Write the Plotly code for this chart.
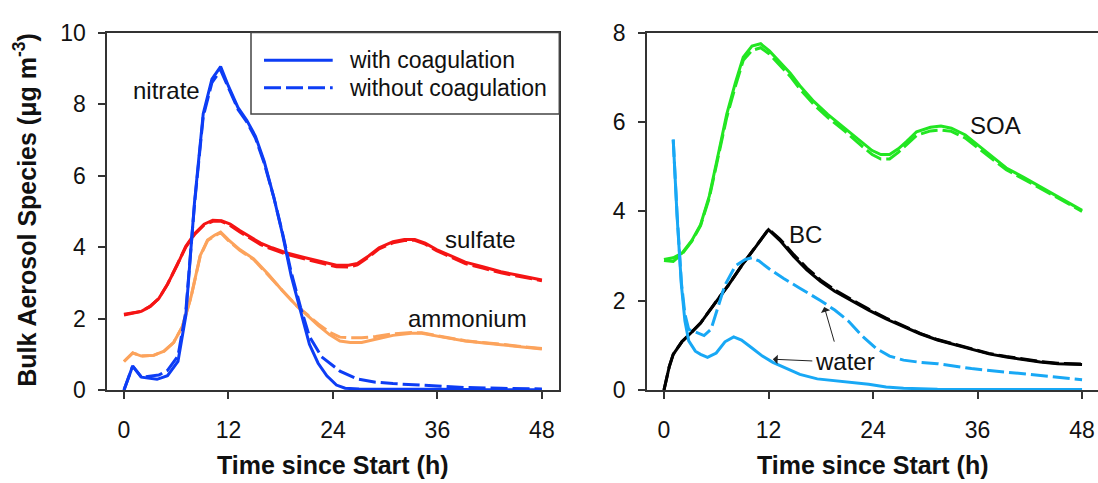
import plotly.graph_objects as go

W, H = 1098, 483

# ---------------- data (left panel) ----------------
nitrate_t = [0, 1, 2, 3.8, 5, 6.2, 7.1, 8.1, 9.1, 10.1, 11.1, 12, 13.1, 14.1, 15.1, 16.1, 17.2,
             18.2, 19.2, 20.3, 21.3, 22.3, 23.3, 24.4, 25.4, 27, 30, 36, 42, 48]
nitrate_with = [0, 0.67, 0.36, 0.3, 0.4, 0.8, 2.08, 5.25, 7.73, 8.7, 9.05, 8.5, 7.9, 7.55, 7.1, 6.4,
                5.4, 4.37, 3.2, 2.17, 1.28, 0.75, 0.4, 0.14, 0.05, 0.03, 0.02, 0.02, 0.01, 0.01]
nitrate_wo_t = [0, 1, 2, 3, 4, 5, 6.2, 7.1, 8.1, 9.1, 10.1, 11.1, 12, 13.1, 14.1, 15.1, 16.1, 17.2,
                18.2, 19.2, 20.3, 21.3, 22.7, 24.8, 26.8, 28.9, 30.9, 35, 39.2, 43.3, 48]
nitrate_without = [0, 0.67, 0.36, 0.38, 0.42, 0.55, 0.95, 2.2, 5.2, 7.65, 8.6, 8.95, 8.45, 7.85, 7.5,
                   7.05, 6.35, 5.4, 4.4, 3.3, 2.3, 1.5, 0.93, 0.53, 0.31, 0.22, 0.18, 0.12, 0.07, 0.05, 0.03]

sulfate_t = [0, 1, 2, 3, 4, 5, 6.1, 7.1, 8.1, 9.2, 10.2, 11.2, 12.2, 13.3, 14.5, 15.7, 17, 18.6, 20.7,
             22.7, 24.4, 25.8, 26.8, 28.1, 29.3, 30.9, 32.2, 33.4, 34.6, 35.9, 37.5, 39.2, 41.2, 43.3, 45.3, 48]
sulfate_with = [2.12, 2.17, 2.2, 2.34, 2.56, 2.96, 3.49, 4.02, 4.37, 4.64, 4.75, 4.74, 4.64, 4.46, 4.29,
                4.11, 3.98, 3.84, 3.71, 3.58, 3.49, 3.49, 3.54, 3.75, 3.98, 4.15, 4.21, 4.21, 4.11, 3.93,
                3.76, 3.58, 3.45, 3.31, 3.21, 3.08]
sulfate_without = [2.1, 2.15, 2.2, 2.34, 2.56, 2.96, 3.49, 4.0, 4.35, 4.62, 4.72, 4.72, 4.6, 4.42, 4.25,
                   4.07, 3.94, 3.8, 3.67, 3.54, 3.45, 3.44, 3.5, 3.72, 3.95, 4.12, 4.18, 4.19, 4.08, 3.9,
                   3.72, 3.54, 3.41, 3.28, 3.18, 3.06]

ammonium_t = [0, 1, 2, 3.4, 4.6, 5.7, 6.7, 7.7, 8.75, 9.6, 10.4, 11.1, 12, 13.3, 14.9, 16.6, 18.2, 19.9,
              21.1, 22.3, 23.6, 24.8, 26, 27.3, 28.9, 30.9, 33, 34.2, 37.1, 39.2, 43.3, 48]
ammonium_with = [0.8, 1.04, 0.95, 0.97, 1.09, 1.33, 1.77, 2.61, 3.76, 4.2, 4.33, 4.42, 4.2, 3.93, 3.67,
                 3.23, 2.78, 2.34, 2.08, 1.81, 1.55, 1.37, 1.33, 1.33, 1.42, 1.53, 1.59, 1.59, 1.46, 1.37,
                 1.27, 1.15]
ammonium_without = [0.8, 1.04, 0.95, 0.97, 1.09, 1.33, 1.77, 2.6, 3.74, 4.18, 4.31, 4.4, 4.18, 3.91,
                    3.65, 3.21, 2.77, 2.34, 2.1, 1.85, 1.62, 1.48, 1.46, 1.46, 1.5, 1.57, 1.61, 1.6, 1.47,
                    1.38, 1.28, 1.16]

# ---------------- data (right panel) ----------------
soa_t = [0, 1.06, 2.05, 3.2, 4.2, 5.2, 6.2, 7.2, 8.2, 9.1, 10.1, 11.1, 12.1, 13.3, 14.5, 15.6, 17.2, 18.8,
         20.8, 22.3, 23.9, 24.9, 25.9, 26.9, 27.9, 29, 30.6, 31.8, 33, 34.6, 36.1, 37.7, 39.3, 41.3, 43.2,
         45.2, 48]
soa_with = [2.92, 2.96, 3.06, 3.35, 3.7, 4.34, 5.25, 6.17, 6.88, 7.45, 7.7, 7.75, 7.59, 7.34, 7.09, 6.81,
            6.46, 6.17, 5.86, 5.61, 5.36, 5.27, 5.27, 5.4, 5.57, 5.78, 5.88, 5.91, 5.86, 5.71, 5.47, 5.22,
            4.97, 4.76, 4.55, 4.34, 4.02]
soa_without = [2.9, 2.88, 3.04, 3.33, 3.68, 4.3, 5.2, 6.1, 6.8, 7.38, 7.6, 7.66, 7.52, 7.27, 7.02, 6.74,
               6.39, 6.1, 5.79, 5.53, 5.27, 5.17, 5.17, 5.32, 5.5, 5.7, 5.8, 5.82, 5.79, 5.64, 5.41, 5.17,
               4.93, 4.72, 4.52, 4.31, 4.0]

bc_t = [0, 0.6, 1.06, 2.05, 3, 4.2, 5.8, 7.4, 8.9, 10.5, 12, 13.3, 14.9, 16.4, 18, 19.6, 21.6, 23.5, 25.5,
        27.5, 29.4, 31.4, 33.4, 35.3, 37.3, 39.3, 41.3, 43.2, 45.2, 48]
bc_with = [0, 0.52, 0.8, 1.08, 1.26, 1.5, 1.93, 2.35, 2.78, 3.2, 3.59, 3.35, 2.99, 2.69, 2.43, 2.21, 1.99,
           1.79, 1.59, 1.42, 1.26, 1.12, 1.01, 0.91, 0.81, 0.74, 0.68, 0.63, 0.59, 0.57]
bc_without = [0, 0.52, 0.8, 1.08, 1.26, 1.5, 1.93, 2.35, 2.78, 3.2, 3.6, 3.38, 3.03, 2.73, 2.46, 2.24,
              2.01, 1.81, 1.61, 1.43, 1.27, 1.13, 1.02, 0.92, 0.82, 0.75, 0.69, 0.64, 0.6, 0.58]

water_t = [1.06, 1.5, 2.0, 2.4, 2.84, 3.6, 4.2, 5, 6, 7, 8, 8.9, 10.1, 11.3, 12.5, 14.1, 15.6, 17.6, 19.6,
           21.6, 23.5, 25.5, 27.5, 31.4, 39.3, 48]
water_with = [5.61, 3.9, 2.35, 1.55, 1.1, 0.87, 0.8, 0.73, 0.83, 1.08, 1.19, 1.12, 0.94, 0.76, 0.62, 0.48,
              0.35, 0.25, 0.21, 0.18, 0.13, 0.07, 0.04, 0.02, 0.015, 0.01]
water_wo_t = [1.06, 1.5, 2.0, 2.4, 2.84, 3.8, 4.6, 5.4, 6.2, 7, 8.2, 9.3, 10.1, 10.9, 12.1, 13.7, 15.6, 18,
              19.6, 21.2, 22.7, 24.3, 25.9, 27.5, 29.4, 31.4, 35.3, 39.3, 43.2, 48]
water_without = [5.6, 3.95, 2.4, 1.7, 1.36, 1.29, 1.22, 1.36, 1.86, 2.35, 2.78, 2.92, 2.96, 2.89, 2.71,
                 2.5, 2.28, 2.0, 1.79, 1.54, 1.22, 0.94, 0.76, 0.67, 0.62, 0.59, 0.48, 0.4, 0.32, 0.23]

x_ticks = [0, 12, 24, 36, 48]
left_y_ticks = [0, 2, 4, 6, 8, 10]
right_y_ticks = [0, 2, 4, 6, 8]

# ---------------- styling ----------------
FONT = "Liberation Sans, Arial, sans-serif"
C_NIT = "#0d3df5"
C_SUL = "#f51414"
C_AMM = "#fca35c"
C_SOA = "#22e622"
C_BC = "#000000"
C_WAT = "#18a8f5"
AX = "#333333"
LW = 3
DASH = "17px,5px"


def px_x(p):
    return p / W


def px_y(p):
    return 1 - p / H


fig = go.Figure()


def add(t, v, color, dash, xa, ya):
    fig.add_trace(go.Scatter(x=t, y=v, mode="lines", xaxis=xa, yaxis=ya, showlegend=False,
                             line=dict(color=color, width=LW, dash=dash), hoverinfo="skip"))


add(ammonium_t, ammonium_without, C_AMM, DASH, "x", "y")
add(ammonium_t, ammonium_with, C_AMM, "solid", "x", "y")
add(sulfate_t, sulfate_without, C_SUL, DASH, "x", "y")
add(sulfate_t, sulfate_with, C_SUL, "solid", "x", "y")
add(nitrate_wo_t, nitrate_without, C_NIT, DASH, "x", "y")
add(nitrate_t, nitrate_with, C_NIT, "solid", "x", "y")

add(soa_t, soa_without, C_SOA, DASH, "x2", "y2")
add(soa_t, soa_with, C_SOA, "solid", "x2", "y2")
add(bc_t, bc_without, C_BC, DASH, "x2", "y2")
add(bc_t, bc_with, C_BC, "solid", "x2", "y2")
add(water_wo_t, water_without, C_WAT, DASH, "x2", "y2")
add(water_t, water_with, C_WAT, "solid", "x2", "y2")

ydom = [px_y(398.5), px_y(20.7)]
tickfont = dict(family=FONT, size=23, color="#111111")
common_x = dict(tickmode="array", tickvals=x_ticks, ticks="outside", ticklen=7, tickwidth=1.5,
                tickcolor=AX, showline=True, linecolor=AX, linewidth=1.5, showgrid=False,
                zeroline=False, tickfont=tickfont, ticklabelstandoff=12)
common_y = dict(ticks="outside", ticklen=7, tickwidth=1.5, tickcolor=AX, showline=True,
                linecolor=AX, linewidth=1.5, showgrid=False, zeroline=False, tickfont=tickfont,
                ticklabelstandoff=8, tickmode="array")

fig.update_layout(
    width=W, height=H, margin=dict(l=0, r=0, t=0, b=0),
    paper_bgcolor="white", plot_bgcolor="white",
    font=dict(family=FONT, color="#111111"),
    xaxis=dict(domain=[px_x(107.1), px_x(559.3)], range=[-1.94, 50.0], anchor="y", mirror=True,
               **common_x),
    yaxis=dict(domain=ydom, range=[0, 10], anchor="x", mirror=True, tickvals=left_y_ticks,
               **common_y),
    xaxis2=dict(domain=[px_x(647.0), 1.0], range=[-1.95, 49.83], anchor="y2", mirror=True,
                **common_x),
    yaxis2=dict(domain=ydom, range=[0, 8], anchor="x2", mirror=False, tickvals=right_y_ticks,
                **common_y),
)

ann = []
title_font = dict(family=FONT, size=25, color="#111111")
lab_font = dict(family=FONT, size=24, color="#111111")

ann.append(dict(text="<b>Time since Start (h)</b>", x=px_x(333), y=px_y(478), xref="paper",
                yref="paper", showarrow=False, font=title_font, xanchor="center", yanchor="middle"))
ann.append(dict(text="<b>Time since Start (h)</b>", x=px_x(873), y=px_y(478), xref="paper",
                yref="paper", showarrow=False, font=title_font, xanchor="center", yanchor="middle"))
ann.append(dict(text="<b>Bulk Aerosol Species (μg m<sup>-3</sup>)</b>", x=px_x(25), y=px_y(208),
                xref="paper", yref="paper", showarrow=False, font=title_font, textangle=-90,
                xanchor="center", yanchor="middle"))

# curve labels
for txt, x, y, xr, yr in [("nitrate", 4.92, 8.39, "x", "y"), ("sulfate", 41.0, 4.2, "x", "y"),
                          ("ammonium", 39.5, 2.0, "x", "y"), ("SOA", 38.1, 5.93, "x2", "y2"),
                          ("BC", 16.3, 3.49, "x2", "y2"), ("water", 20.8, 0.63, "x2", "y2")]:
    ann.append(dict(text=txt, x=x, y=y, xref=xr, yref=yr, showarrow=False, font=lab_font,
                    xanchor="center", yanchor="middle"))

# arrows pointing to water curves
for tip, tail in [((12.5, 0.69), (17.2, 0.65)), ((18.4, 1.86), (19.6, 1.05))]:
    ann.append(dict(text="", x=tip[0], y=tip[1], xref="x2", yref="y2", ax=tail[0], ay=tail[1],
                    axref="x2", ayref="y2", showarrow=True, arrowhead=1, arrowsize=1.6,
                    arrowwidth=1, arrowcolor="#222222"))

# legend
leg_font = dict(family=FONT, size=23, color="#111111")
ann.append(dict(text="with coagulation", x=px_x(347), y=px_y(50), xref="paper", yref="paper",
                showarrow=False, font=leg_font, xanchor="left", yanchor="middle"))
ann.append(dict(text="without coagulation", x=px_x(347), y=px_y(79.5), xref="paper", yref="paper",
                showarrow=False, font=leg_font, xanchor="left", yanchor="middle"))

shapes = [
    dict(type="rect", xref="paper", yref="paper", x0=px_x(251), x1=px_x(559.3), y0=px_y(106.7),
         y1=px_y(20.7), line=dict(color="#444444", width=1.5), fillcolor="white", layer="above"),
    dict(type="line", xref="paper", yref="paper", x0=px_x(264), x1=px_x(332.7), y0=px_y(50),
         y1=px_y(50), line=dict(color=C_NIT, width=LW)),
    dict(type="line", xref="paper", yref="paper", x0=px_x(264), x1=px_x(332.7), y0=px_y(79),
         y1=px_y(79), line=dict(color=C_NIT, width=LW, dash=DASH)),
]

fig.update_layout(annotations=ann, shapes=shapes)
fig.write_html("out.html")
